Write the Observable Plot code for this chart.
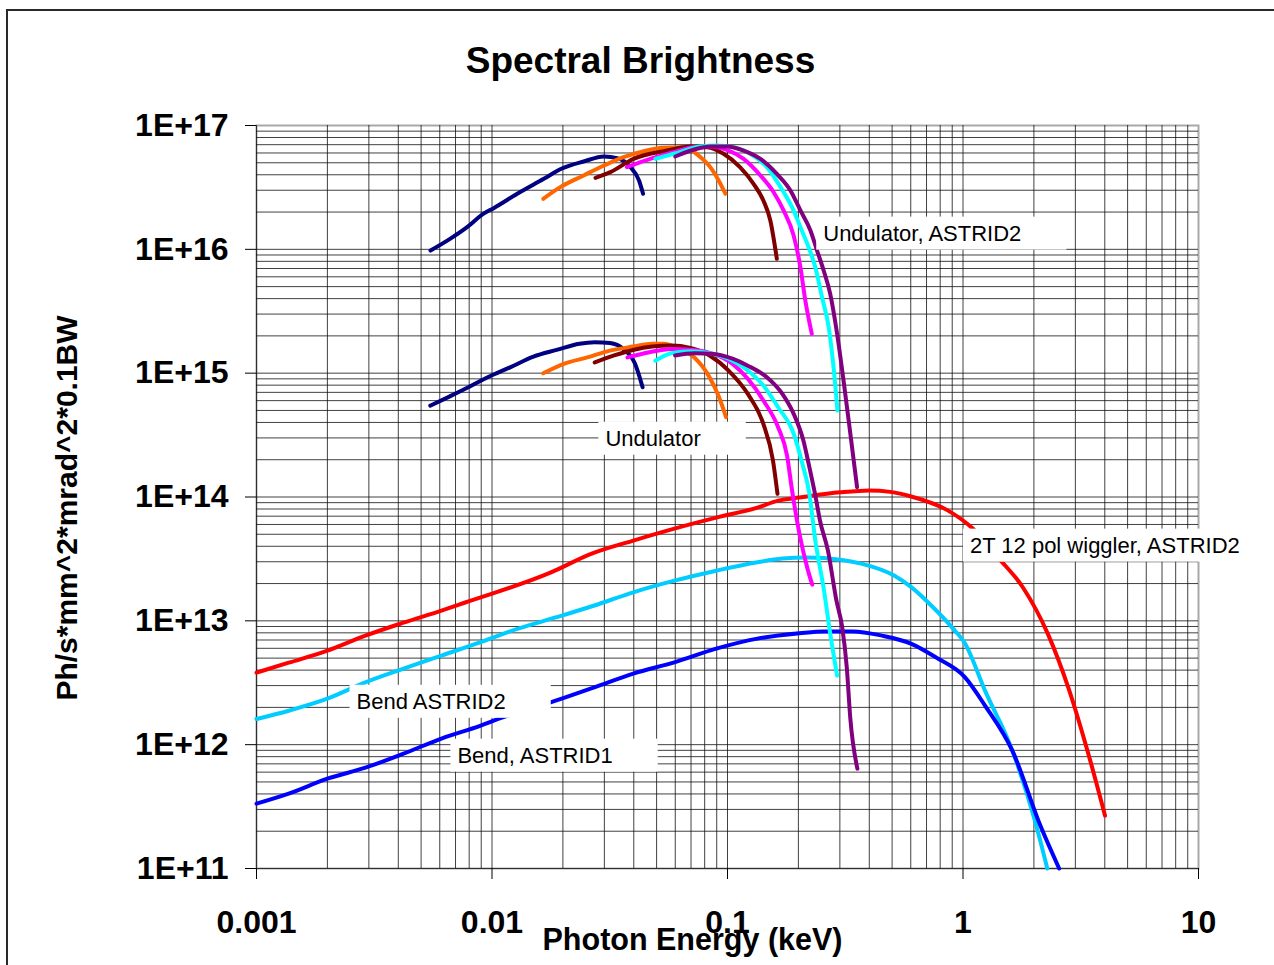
<!DOCTYPE html>
<html>
<head>
<meta charset="utf-8">
<script src="https://cdn.jsdelivr.net/npm/d3@7"></script>
<script src="https://cdn.jsdelivr.net/npm/@observablehq/plot@0.6"></script>
<style>
  html, body { margin: 0; padding: 0; background: #fff; overflow: hidden; }
  #page { position: relative; width: 1274px; height: 965px; overflow: hidden;
          font-family: "Liberation Sans", Arial, sans-serif; }
  #border { position: absolute; left: 6px; top: 9px; width: 1320px; height: 1020px;
            border: 2px solid #2a2a2a; box-sizing: border-box; }
  #title { position: absolute; left: 0; top: 42px; width: 1281px; text-align: center;
           font-weight: bold; font-size: 37px; line-height: 37px; color: #000; }
  #chart { position: absolute; left: 0; top: 90px; }
</style>
</head>
<body>
<div id="page">
  <div id="border"></div>
  <div id="title">Spectral Brightness</div>
  <div id="chart"></div>
</div>
<script>
// ---- Axis ticks and labels ----
const xTicks = [0.001, 0.01, 0.1, 1, 10];
const xTickLabels = ["0.001", "0.01", "0.1", "1", "10"];
const yTicks = [1e11, 1e12, 1e13, 1e14, 1e15, 1e16, 1e17];
const yTickLabels = ["1E+11", "1E+12", "1E+13", "1E+14", "1E+15", "1E+16", "1E+17"];
const xTitle = "Photon Energy (keV)";
const yTitle = "Ph/s*mm^2*mrad^2*0.1BW";

// ---- Spectra: [photon energy (keV), brightness] ----
const wigglerAstrid2 = [
  [0.001, 3.82e12], [0.00137, 4.59e12], [0.002, 5.74e12], [0.0029, 7.59e12], [0.00421, 9.67e12],
  [0.0061, 1.21e13], [0.00764, 1.40e13], [0.0177, 2.45e13], [0.0265, 3.49e13], [0.0398, 4.45e13],
  [0.0595, 5.56e13], [0.0896, 6.82e13], [0.134, 8.21e13], [0.164, 9.35e13], [0.202, 9.89e13],
  [0.301, 1.09e14], [0.40, 1.13e14], [0.491, 1.10e14], [0.603, 1.01e14], [0.865, 7.76e13],
  [1.10, 5.56e13], [1.41, 3.24e13], [1.80, 1.85e13], [2.29, 7.88e12], [2.80, 2.89e12],
  [3.47, 7.43e11], [4.01, 2.67e11]
];
const bendAstrid2 = [
  [0.001, 1.61e12], [0.00137, 1.88e12], [0.002, 2.35e12], [0.0029, 3.19e12], [0.00421, 4.11e12],
  [0.0061, 5.24e12], [0.0089, 6.70e12], [0.0129, 8.65e12], [0.0188, 1.07e13], [0.0272, 1.33e13],
  [0.0398, 1.70e13], [0.0595, 2.11e13], [0.0896, 2.54e13], [0.134, 2.97e13], [0.171, 3.18e13],
  [0.218, 3.24e13], [0.301, 3.12e13], [0.370, 2.90e13], [0.510, 2.32e13], [0.603, 1.87e13],
  [0.733, 1.33e13], [0.900, 8.81e12], [1.02, 6.55e12], [1.24, 2.73e12], [1.62, 8.95e11],
  [2.02, 2.43e11], [2.28, 1.0e11]
];
const bendAstrid1 = [
  [0.001, 3.34e11], [0.00137, 4.02e11], [0.002, 5.31e11], [0.0029, 6.52e11], [0.00421, 8.46e11],
  [0.0061, 1.12e12], [0.0089, 1.42e12], [0.0111, 1.66e12], [0.0162, 2.07e12], [0.0272, 2.90e12],
  [0.0398, 3.75e12], [0.0595, 4.62e12], [0.0896, 5.96e12], [0.134, 7.18e12], [0.202, 7.93e12],
  [0.257, 8.22e12], [0.341, 8.22e12], [0.453, 7.59e12], [0.601, 6.55e12], [0.767, 5.07e12],
  [1.02, 3.50e12], [1.24, 2.07e12], [1.62, 8.95e11], [2.13, 2.22e11], [2.56, 1.0e11]
];

// Undulator harmonics, ASTRID2
const und2Navy = [
  [0.00548, 9.78e15], [0.00666, 1.22e16], [0.00784, 1.51e16], [0.00921, 1.94e16], [0.0102, 2.16e16],
  [0.0128, 2.81e16], [0.0166, 3.71e16], [0.0197, 4.47e16], [0.0245, 5.12e16], [0.0299, 5.62e16],
  [0.0340, 5.45e16], [0.0387, 4.61e16], [0.0421, 3.60e16], [0.0438, 2.81e16]
];
const und2Orange = [
  [0.0165, 2.56e16], [0.0195, 3.18e16], [0.0245, 3.95e16], [0.0299, 4.75e16], [0.0362, 5.55e16],
  [0.0441, 6.20e16], [0.0536, 6.61e16], [0.0651, 6.68e16], [0.0767, 5.55e16], [0.0845, 4.61e16],
  [0.0917, 3.60e16], [0.098, 2.81e16]
];
const und2DarkRed = [
  [0.0275, 3.78e16], [0.0318, 4.20e16], [0.0399, 5.38e16], [0.0554, 6.28e16], [0.0695, 6.77e16],
  [0.0818, 6.68e16], [0.0962, 5.91e16], [0.113, 4.61e16], [0.129, 3.38e16], [0.142, 2.48e16],
  [0.152, 1.71e16], [0.162, 8.38e15]
];
const und2Magenta = [
  [0.0374, 4.61e16], [0.047, 5.38e16], [0.0591, 6.08e16], [0.0718, 6.68e16], [0.0845, 6.77e16],
  [0.0995, 6.37e16], [0.117, 5.38e16], [0.138, 3.95e16], [0.157, 2.89e16], [0.173, 2.06e16],
  [0.191, 1.29e16], [0.204, 7.17e15], [0.214, 3.86e15], [0.228, 2.08e15]
];
const und2Cyan = [
  [0.0494, 5.38e16], [0.0591, 5.91e16], [0.0767, 6.77e16], [0.0902, 6.89e16], [0.106, 6.68e16],
  [0.125, 5.91e16], [0.147, 4.61e16], [0.168, 3.18e16], [0.188, 2.19e16], [0.204, 1.51e16],
  [0.221, 1.04e16], [0.236, 7.17e15], [0.252, 4.10e15], [0.269, 2.35e15], [0.282, 1.12e15],
  [0.293, 4.99e14]
];
const und2Purple = [
  [0.060, 5.62e16], [0.0718, 6.37e16], [0.0845, 6.77e16], [0.0995, 6.77e16], [0.117, 6.28e16],
  [0.138, 5.38e16], [0.162, 4.07e16], [0.185, 2.99e16], [0.204, 2.06e16], [0.225, 1.42e16],
  [0.240, 9.78e15], [0.256, 6.75e15], [0.273, 4.37e15], [0.292, 2.08e15], [0.311, 8.71e14],
  [0.327, 4.14e14], [0.355, 1.20e14]
];

// Undulator harmonics
const undNavy = [
  [0.00547, 5.47e14], [0.00659, 6.47e14], [0.00794, 7.69e14], [0.00959, 9.27e14], [0.012, 1.12e15],
  [0.015, 1.36e15], [0.0188, 1.54e15], [0.0235, 1.73e15], [0.0273, 1.78e15], [0.0317, 1.75e15],
  [0.0361, 1.57e15], [0.0405, 1.19e15], [0.0436, 7.69e14]
];
const undOrange = [
  [0.0165, 9.98e14], [0.0202, 1.19e15], [0.0254, 1.34e15], [0.0317, 1.52e15], [0.0397, 1.64e15],
  [0.0479, 1.73e15], [0.0536, 1.73e15], [0.0622, 1.57e15], [0.0723, 1.34e15], [0.0839, 9.27e14],
  [0.0921, 6.38e14], [0.0986, 4.41e14]
];
const undDarkRed = [
  [0.0273, 1.22e15], [0.033, 1.39e15], [0.0397, 1.54e15], [0.0479, 1.64e15], [0.0577, 1.67e15],
  [0.0695, 1.60e15], [0.0839, 1.39e15], [0.101, 1.05e15], [0.122, 6.80e14], [0.142, 3.89e14],
  [0.156, 1.97e14], [0.163, 1.06e14]
];
const undMagenta = [
  [0.0376, 1.34e15], [0.0461, 1.47e15], [0.0577, 1.57e15], [0.0723, 1.54e15], [0.0871, 1.43e15],
  [0.105, 1.19e15], [0.122, 9.0e14], [0.142, 6.01e14], [0.164, 3.66e14], [0.179, 2.16e14],
  [0.188, 1.13e14], [0.202, 5.06e13], [0.218, 2.69e13], [0.229, 1.96e13]
];
const undCyan = [
  [0.0494, 1.26e15], [0.0577, 1.45e15], [0.0695, 1.50e15], [0.0839, 1.45e15], [0.101, 1.31e15],
  [0.122, 1.05e15], [0.142, 7.94e14], [0.164, 5.31e14], [0.191, 3.24e14], [0.208, 1.85e14],
  [0.222, 1.10e14], [0.236, 4.45e13], [0.257, 1.75e13], [0.273, 7.88e12], [0.292, 3.61e12]
];
const undPurple = [
  [0.0599, 1.39e15], [0.0723, 1.45e15], [0.0871, 1.43e15], [0.105, 1.31e15], [0.122, 1.15e15],
  [0.147, 9.27e14], [0.171, 6.80e14], [0.191, 4.69e14], [0.210, 2.86e14], [0.222, 1.79e14],
  [0.236, 1.03e14], [0.247, 6.45e13], [0.267, 3.69e13], [0.290, 1.46e13], [0.307, 8.87e12],
  [0.321, 4.21e12], [0.332, 1.66e12], [0.356, 6.40e11]
];

// ---- Curve annotations ----
const labelText = ["Undulator, ASTRID2", "Undulator", "2T 12 pol wiggler, ASTRID2", "Bend ASTRID2", "Bend, ASTRID1"];
const labelEnergy = [0.255, 0.0303, 1.07, 0.00266, 0.00713];
const labelBrightness = [1.34e16, 2.96e14, 4.05e13, 2.22e12, 8.15e11];

// ---- Series table (drawing order: sources first, then undulator harmonics) ----
const series = [
  {name: "wiggler ASTRID2", color: "#ff0000", points: wigglerAstrid2},
  {name: "bend ASTRID2", color: "#00ccff", points: bendAstrid2},
  {name: "bend ASTRID1", color: "#0000ff", points: bendAstrid1},
  {name: "und2 h1", color: "#000080", points: und2Navy},
  {name: "und2 h2", color: "#ff6600", points: und2Orange},
  {name: "und2 h3", color: "#800000", points: und2DarkRed},
  {name: "und2 h4", color: "#ff00ff", points: und2Magenta},
  {name: "und2 h5", color: "#00ffff", points: und2Cyan},
  {name: "und2 h6", color: "#800080", points: und2Purple},
  {name: "und h1", color: "#000080", points: undNavy},
  {name: "und h2", color: "#ff6600", points: undOrange},
  {name: "und h3", color: "#800000", points: undDarkRed},
  {name: "und h4", color: "#ff00ff", points: undMagenta},
  {name: "und h5", color: "#00ffff", points: undCyan},
  {name: "und h6", color: "#800080", points: undPurple}
];
const rows = series.flatMap(s => s.points.map(([e, b]) => ({series: s.name, color: s.color, energy: e, brightness: b})));
const labels = labelText.map((t, i) => ({text: t, energy: labelEnergy[i], brightness: labelBrightness[i]}));

// Minor gridlines at 2..9 within every decade
const decadesX = [0.001, 0.01, 0.1, 1];
const decadesY = [1e11, 1e12, 1e13, 1e14, 1e15, 1e16];
const steps = d3.range(2, 10);
const xGrid = decadesX.flatMap(d => [d, ...steps.map(k => d * k)]);
const yGrid = decadesY.flatMap(d => [d, ...steps.map(k => d * k)]);

const W = 1274, H = 875;
const gridColor = "#111";

const chart = Plot.plot({
  width: W,
  height: H,
  marginLeft: 256,
  marginRight: 76,
  marginTop: 35,
  marginBottom: 97,
  style: {fontFamily: '"Liberation Sans", Arial, sans-serif', background: "transparent", overflow: "visible", color: "#000"},
  x: {type: "log", domain: [0.001, 10]},
  y: {type: "log", domain: [1e11, 1e17]},
  color: {type: "identity"},
  marks: [
    Plot.frame({stroke: "#a8a8a8", strokeWidth: 2}),
    Plot.ruleX(xGrid, {stroke: gridColor, strokeOpacity: 0.8, strokeWidth: 1}),
    Plot.ruleY(yGrid, {stroke: gridColor, strokeOpacity: 0.8, strokeWidth: 1}),
    Plot.axisX({ticks: xTicks, tickFormat: d => xTickLabels[xTicks.indexOf(d)], tickSize: 11, tickPadding: 31,
                fontSize: 32, fontWeight: "bold", label: null}),
    Plot.axisY({ticks: yTicks, tickFormat: d => yTickLabels[yTicks.indexOf(d)], tickSize: 11, tickPadding: 17,
                fontSize: 32, fontWeight: "bold", label: null}),
    Plot.line(rows, {x: "energy", y: "brightness", z: "series", stroke: "color", strokeWidth: 4,
                     strokeLinejoin: "round", strokeLinecap: "round", curve: "monotone-x"}),
    Plot.text(labels, {x: "energy", y: "brightness", text: "text", textAnchor: "start", fontSize: 22,
                       fill: "#000"}),
    Plot.text([xTitle], {frameAnchor: "bottom", text: d => d, textAnchor: "middle", lineAnchor: "middle",
                         dx: -35, dy: 72, fontSize: 30.5, fontWeight: "bold", fill: "#000"}),
    Plot.text([yTitle], {frameAnchor: "left", text: d => d, textAnchor: "middle", lineAnchor: "middle",
                         rotate: -90, dx: -189, dy: 11, fontSize: 30, fontWeight: "bold", fill: "#000"})
  ]
});

document.getElementById("chart").appendChild(chart);

// White boxes behind the curve annotations, sized from the rendered text
const ns = "http://www.w3.org/2000/svg";
const svgBox = chart.getBoundingClientRect();
const annotationNodes = Array.from(chart.querySelectorAll("text")).filter(t => labelText.includes(t.textContent));
if (annotationNodes.length) {
  const holder = annotationNodes[0].parentNode;
  const boxes = document.createElementNS(ns, "g");
  holder.parentNode.insertBefore(boxes, holder);
  annotationNodes.forEach(t => {
    const b = t.getBoundingClientRect();
    const x0 = b.left - svgBox.left - 7;
    const x1 = Math.min(b.right - svgBox.left + 45, W - 19);
    const y0 = b.top - svgBox.top - 4;
    const y1 = b.bottom - svgBox.top + 4;
    const r = document.createElementNS(ns, "rect");
    r.setAttribute("x", x0);
    r.setAttribute("y", y0);
    r.setAttribute("width", x1 - x0);
    r.setAttribute("height", y1 - y0);
    r.setAttribute("fill", "#fff");
    boxes.appendChild(r);
  });
}
</script>
</body>
</html>
